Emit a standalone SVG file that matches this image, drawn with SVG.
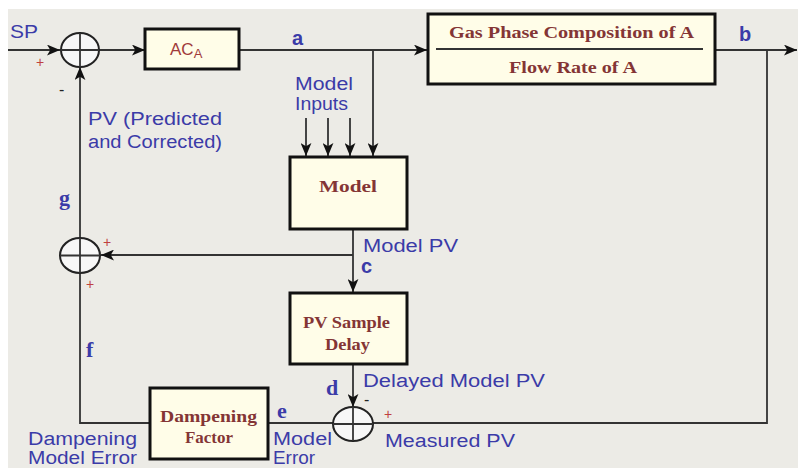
<svg xmlns="http://www.w3.org/2000/svg" width="798" height="468" viewBox="0 0 798 468">
<defs>
<marker id="arr" viewBox="0 0 12 10" refX="12" refY="5" markerWidth="13" markerHeight="11" markerUnits="userSpaceOnUse" orient="auto">
<path d="M0,0 L12,5 L0,10 L3,5 Z" fill="#111"/>
</marker>
<style>
.bg{fill:#ecebe6}
.box{fill:#fffde8;stroke:#111;stroke-width:3}
.ln{fill:none;stroke:#333;stroke-width:1.8}
.sum{fill:#f7f7f7;stroke:#222;stroke-width:2}
.bt{font-family:"Liberation Serif","DejaVu Serif",serif;font-weight:bold;fill:#843535;text-anchor:start}
.lb{font-family:"Liberation Sans",Arial,sans-serif;fill:#3b3ba8;font-size:18px}
.let{font-family:"Liberation Serif",serif;font-weight:bold;fill:#3b3ba8;font-size:22px}
.lets{font-family:"Liberation Sans",Arial,sans-serif;font-weight:bold;fill:#3b3ba8;font-size:20px}
.pm{font-family:"Liberation Sans",Arial,sans-serif;fill:#c04040;font-size:14px}
.mn{font-family:"Liberation Sans",Arial,sans-serif;fill:#222;font-size:16px}
</style>
</defs>
<rect x="0" y="0" width="798" height="468" fill="#ffffff"/>
<rect class="bg" x="8" y="9" width="790" height="459"/>

<g id="connectors">
<line class="ln" x1="8" y1="50" x2="60" y2="50" marker-end="url(#arr)"/>
<line class="ln" x1="99" y1="50" x2="145" y2="50" marker-end="url(#arr)"/>
<line class="ln" x1="239" y1="50" x2="427" y2="50" marker-end="url(#arr)"/>
<line class="ln" x1="715" y1="50" x2="797" y2="50" marker-end="url(#arr)"/>
<polyline class="ln" points="767,50 767,423 373,423"/>
<line class="ln" x1="373" y1="50" x2="373" y2="156" marker-end="url(#arr)"/>
<line class="ln" x1="306" y1="118" x2="306" y2="156" marker-end="url(#arr)"/>
<line class="ln" x1="328" y1="118" x2="328" y2="156" marker-end="url(#arr)"/>
<line class="ln" x1="350" y1="118" x2="350" y2="156" marker-end="url(#arr)"/>
<line class="ln" x1="353" y1="229" x2="353" y2="292" marker-end="url(#arr)"/>
<line class="ln" x1="353" y1="255" x2="101" y2="255" marker-end="url(#arr)"/>
<line class="ln" x1="353" y1="364" x2="353" y2="407" marker-end="url(#arr)"/>
<line class="ln" x1="80" y1="238" x2="80" y2="67" marker-end="url(#arr)"/>
<polyline class="ln" points="80,273 80,423 150,423"/>
<line class="ln" x1="268" y1="423" x2="333" y2="423"/>
</g>

<g id="sum1">
<ellipse class="sum" cx="80" cy="50" rx="19" ry="17"/>
<line class="ln" x1="61" y1="50" x2="99" y2="50"/>
<line class="ln" x1="80" y1="33" x2="80" y2="67"/>
</g>
<g id="sum2">
<ellipse class="sum" cx="80" cy="255.5" rx="20" ry="17.5"/>
<line class="ln" x1="60" y1="255.5" x2="100" y2="255.5"/>
<line class="ln" x1="80" y1="238" x2="80" y2="273"/>
</g>
<g id="sum3">
<ellipse class="sum" cx="353" cy="424" rx="20" ry="17"/>
<line class="ln" x1="333" y1="424" x2="373" y2="424"/>
<line class="ln" x1="353" y1="407" x2="353" y2="441"/>
</g>

<g id="aca">
<rect class="box" x="145" y="29" width="94" height="40"/>
<text x="170" y="55" font-family="Liberation Sans,Arial,sans-serif" font-size="17" fill="#a03a3a">AC<tspan font-size="13" dy="3">A</tspan></text>
</g>

<g id="gas">
<rect class="box" x="428" y="14" width="287" height="70"/>
<line x1="436" y1="49" x2="703" y2="49" stroke="#333" stroke-width="1.8"/>
<text class="bt" x="449" y="38" font-size="17" textLength="245" lengthAdjust="spacingAndGlyphs">Gas Phase Composition of A</text>
<text class="bt" x="509" y="73" font-size="17" textLength="128" lengthAdjust="spacingAndGlyphs">Flow Rate of A</text>
</g>

<g id="model">
<rect class="box" x="290" y="157" width="117" height="72"/>
<text class="bt" x="319" y="192" font-size="17" textLength="58" lengthAdjust="spacingAndGlyphs">Model</text>
</g>

<g id="pvdelay">
<rect class="box" x="290" y="293" width="117" height="71"/>
<text class="bt" x="303" y="328" font-size="17" textLength="87" lengthAdjust="spacingAndGlyphs">PV Sample</text>
<text class="bt" x="325" y="350" font-size="17" textLength="45" lengthAdjust="spacingAndGlyphs">Delay</text>
</g>

<g id="damp">
<rect class="box" x="150" y="388" width="118" height="71"/>
<text class="bt" x="160" y="422" font-size="17" textLength="97" lengthAdjust="spacingAndGlyphs">Dampening</text>
<text class="bt" x="185" y="443" font-size="17" textLength="48" lengthAdjust="spacingAndGlyphs">Factor</text>
</g>

<g id="labels">
<text class="lb" x="10" y="38" textLength="28" lengthAdjust="spacingAndGlyphs">SP</text>
<text class="pm" x="36" y="67">+</text>
<text class="mn" x="59" y="95">-</text>
<text class="lb" x="88" y="125" textLength="134" lengthAdjust="spacingAndGlyphs">PV (Predicted</text>
<text class="lb" x="88" y="148" textLength="134" lengthAdjust="spacingAndGlyphs">and Corrected)</text>
<text class="lets" x="292" y="45">a</text>
<text class="lets" x="739" y="41">b</text>
<text class="lb" x="295" y="90" textLength="58" lengthAdjust="spacingAndGlyphs">Model</text>
<text class="lb" x="295" y="110" textLength="53" lengthAdjust="spacingAndGlyphs">Inputs</text>
<text class="lb" x="363" y="252" textLength="95" lengthAdjust="spacingAndGlyphs">Model PV</text>
<text class="lets" x="361" y="273">c</text>
<text class="let" x="59" y="205">g</text>
<text class="pm" x="103" y="247">+</text>
<text class="pm" x="86" y="289">+</text>
<text class="let" x="86" y="357">f</text>
<text class="let" x="326" y="395">d</text>
<text class="mn" x="364" y="405">-</text>
<text class="lb" x="363" y="387" textLength="182" lengthAdjust="spacingAndGlyphs">Delayed Model PV</text>
<text class="pm" x="384" y="419">+</text>
<text class="lb" x="385" y="447" textLength="130" lengthAdjust="spacingAndGlyphs">Measured PV</text>
<text class="let" x="277" y="418">e</text>
<text class="lb" x="273" y="445" textLength="59" lengthAdjust="spacingAndGlyphs">Model</text>
<text class="lb" x="273" y="464" font-size="17" textLength="42" lengthAdjust="spacingAndGlyphs">Error</text>
<text class="lb" x="28" y="445" textLength="109" lengthAdjust="spacingAndGlyphs">Dampening</text>
<text class="lb" x="28" y="464" font-size="17" textLength="109" lengthAdjust="spacingAndGlyphs">Model Error</text>
</g>
</svg>
